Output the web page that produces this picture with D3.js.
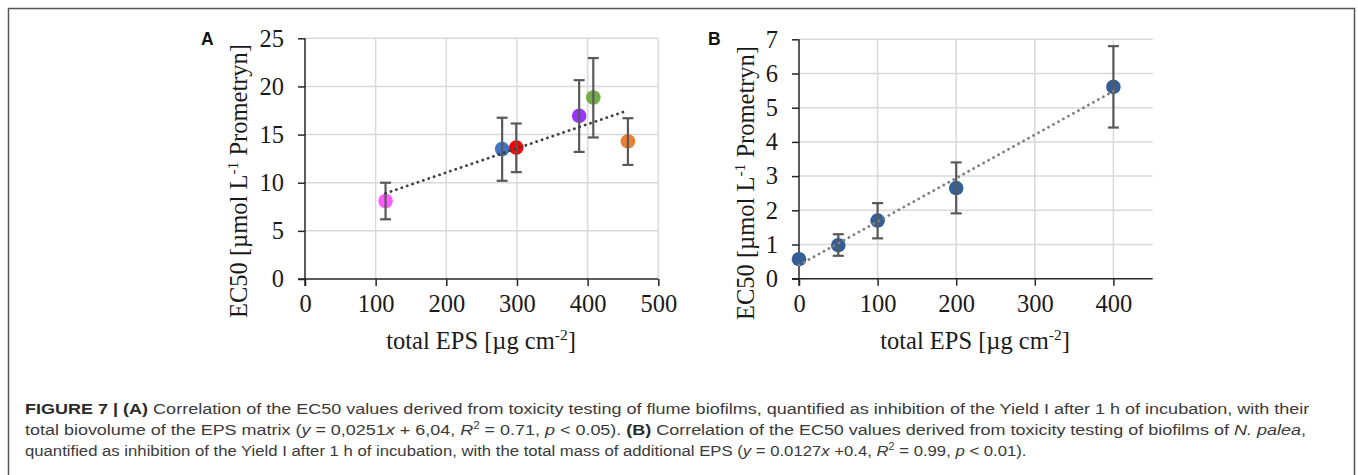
<!DOCTYPE html>
<html>
<head>
<meta charset="utf-8">
<script src="https://cdn.jsdelivr.net/npm/d3@7"></script>
<style>
  body { margin: 0; background: #fff; }
  svg { display: block; }
</style>
</head>
<body>
<svg id="chart" width="1358" height="475"></svg>
<script>
// ---------- Data ----------
// Panel A: flume biofilms
const aX      = [114, 279, 299, 388, 408, 457];
const aY      = [8.1, 13.5, 13.65, 16.95, 18.85, 14.3];
const aErrHi  = [10.0, 16.75, 16.15, 20.65, 22.95, 16.7];
const aErrLo  = [6.2, 10.2, 11.1, 13.2, 14.7, 11.85];
const aColors = ["#ff5cff", "#4472c4", "#ff0000", "#9933ff", "#70ad47", "#ed7d31"];
const aTrend  = { slope: 0.0251, intercept: 6.04, from: 114, to: 457 };
const aXTicks = [0, 100, 200, 300, 400, 500];
const aYTicks = [0, 5, 10, 15, 20, 25];

// Panel B: N. palea biofilms
const bX      = [0, 50, 100, 200, 400];
const bY      = [0.57, 0.98, 1.70, 2.65, 5.61];
const bErrHi  = [null, 1.30, 2.21, 3.40, 6.80];
const bErrLo  = [null, 0.67, 1.18, 1.91, 4.42];
const bColor  = "#335e96";
const bTrend  = { slope: 0.0127, intercept: 0.4, from: 0, to: 400 };
const bXTicks = [0, 100, 200, 300, 400];
const bYTicks = [0, 1, 2, 3, 4, 5, 6, 7];

const svg = d3.select("#chart");
svg.append("rect").attr("x", 0).attr("y", 0).attr("width", 1358).attr("height", 475).attr("fill", "#fff");
// figure frame
svg.append("rect").attr("x", 8.5).attr("y", 8.5).attr("width", 1346).attr("height", 480)
  .attr("fill", "none").attr("stroke", "#555").attr("stroke-width", 1.5);

const serif = "'Liberation Serif', 'Times New Roman', serif";
const sans = "'Liberation Sans', Arial, Helvetica, sans-serif";

function panel(cfg) {
  const g = svg.append("g");
  const x = d3.scaleLinear().domain(cfg.xDomain).range([cfg.left, cfg.right]);
  const y = d3.scaleLinear().domain(cfg.yDomain).range([cfg.bottom, cfg.top]);

  // gridlines
  const grid = g.append("g");
  grid.selectAll(".hg").data(cfg.yTicks.filter(d => d !== 0)).join("line")
    .attr("x1", cfg.left).attr("x2", cfg.right)
    .attr("y1", d => y(d)).attr("y2", d => y(d))
    .attr("stroke", "#d9d9d9").attr("stroke-width", 1.5);
  grid.selectAll(".vg").data(cfg.xTicks.filter(d => d !== 0)).join("line")
    .attr("x1", d => x(d)).attr("x2", d => x(d))
    .attr("y1", cfg.top).attr("y2", cfg.bottom)
    .attr("stroke", "#d9d9d9").attr("stroke-width", 1.5);

  // axes
  const xAxis = d3.axisBottom(x).tickValues(cfg.xTicks).tickSize(7).tickPadding(9).tickFormat(d3.format("d"));
  const yAxis = d3.axisLeft(y).tickValues(cfg.yTicks).tickSize(7).tickPadding(14).tickFormat(d3.format("d"));
  const gx = g.append("g").attr("transform", `translate(0,${cfg.bottom})`).call(xAxis);
  const gy = g.append("g").attr("transform", `translate(${cfg.left},0)`).call(yAxis);
  [gx, gy].forEach(ax => {
    ax.select(".domain").remove();
    ax.selectAll("line").attr("stroke", "#262626").attr("stroke-width", 1.5);
    ax.selectAll("text").attr("fill", "#1a1a1a").style("font-family", serif).style("font-size", "24.5px");
  });
  // axis lines
  g.append("line").attr("x1", cfg.left - 7).attr("x2", cfg.right)
    .attr("y1", cfg.bottom).attr("y2", cfg.bottom).attr("stroke", "#262626").attr("stroke-width", 1.5);
  g.append("line").attr("x1", cfg.left).attr("x2", cfg.left)
    .attr("y1", cfg.top).attr("y2", cfg.bottom + 7).attr("stroke", "#262626").attr("stroke-width", 1.5);

  // markers
  const pts = cfg.xs.map((v, i) => ({ x: v, y: cfg.ys[i], hi: cfg.hi[i], lo: cfg.lo[i], c: cfg.colors[i] }));
  g.append("g").selectAll("circle").data(pts).join("circle")
    .attr("cx", d => x(d.x)).attr("cy", d => y(d.y)).attr("r", 7.3)
    .attr("fill", d => d.c);

  // error bars
  const eb = g.append("g").attr("stroke", "#595959").attr("stroke-width", 2.2);
  pts.filter(d => d.hi != null).forEach(d => {
    eb.append("line").attr("x1", x(d.x)).attr("x2", x(d.x)).attr("y1", y(d.hi)).attr("y2", y(d.lo));
    eb.append("line").attr("x1", x(d.x) - 5.5).attr("x2", x(d.x) + 5.5).attr("y1", y(d.hi)).attr("y2", y(d.hi));
    eb.append("line").attr("x1", x(d.x) - 5.5).attr("x2", x(d.x) + 5.5).attr("y1", y(d.lo)).attr("y2", y(d.lo));
  });

  // trendline
  const t = cfg.trend;
  g.append("line")
    .attr("x1", x(t.from)).attr("y1", y(t.slope * t.from + t.intercept))
    .attr("x2", x(t.to)).attr("y2", y(t.slope * t.to + t.intercept))
    .attr("stroke", cfg.trendColor).attr("stroke-width", 2.8)
    .attr("stroke-dasharray", "0.1,5.6").attr("stroke-linecap", "round");

  // x title
  const xt = g.append("text").attr("x", cfg.xTitleX).attr("y", 349).attr("text-anchor", "middle")
    .style("font-family", serif).style("font-size", "24.5px").attr("fill", "#1a1a1a");
  xt.append("tspan").text("total EPS [µg cm");
  xt.append("tspan").attr("dy", -9).style("font-size", "15.5px").text("-2");
  xt.append("tspan").attr("dy", 9).text("]");

  // y title
  const yt = g.append("text").attr("transform", `translate(${cfg.yTitleX},${cfg.yTitleY}) rotate(-90)`)
    .attr("text-anchor", "middle")
    .style("font-family", serif).style("font-size", "24.5px").attr("fill", "#1a1a1a");
  yt.append("tspan").text("EC50 [µmol L");
  yt.append("tspan").attr("dy", -9).style("font-size", "15.5px").text("-1");
  yt.append("tspan").attr("dy", 9).text(" Prometryn]");

  // panel label
  g.append("text").attr("x", cfg.labelX).attr("y", 45).text(cfg.label)
    .style("font-family", sans).style("font-size", "17.5px").style("font-weight", "bold").attr("fill", "#111");
}

panel({
  xDomain: [0, 500], yDomain: [0, 25], left: 305, right: 658.3, top: 38.3, bottom: 279,
  xTicks: aXTicks, yTicks: aYTicks, xs: aX, ys: aY, hi: aErrHi, lo: aErrLo, colors: aColors,
  trend: aTrend, trendColor: "#404040", xTitleX: 481, yTitleX: 247, yTitleY: 181, label: "A", labelX: 201
});
panel({
  xDomain: [0, 450], yDomain: [0, 7], left: 799, right: 1152.7, top: 39.3, bottom: 278.7,
  xTicks: bXTicks, yTicks: bYTicks, xs: bX, ys: bY, hi: bErrHi, lo: bErrLo, colors: bX.map(() => bColor),
  trend: bTrend, trendColor: "#7f7f7f", xTitleX: 975, yTitleX: 754, yTitleY: 183, label: "B", labelX: 708
});

// ---------- Caption ----------
const capLines = [
  [["b", "FIGURE 7 | (A)"], ["n", " Correlation of the EC50 values derived from toxicity testing of flume biofilms, quantified as inhibition of the Yield I after 1 h of incubation, with their"]],
  [["n", "total biovolume of the EPS matrix ("], ["i", "y"], ["n", " = 0,0251"], ["i", "x"], ["n", " + 6,04, "], ["i", "R"], ["s", "2"], ["n", " = 0.71, "], ["i", "p"], ["n", " < 0.05). "], ["b", "(B)"], ["n", " Correlation of the EC50 values derived from toxicity testing of biofilms of "], ["i", "N. palea"], ["n", ","]],
  [["n", "quantified as inhibition of the Yield I after 1 h of incubation, with the total mass of additional EPS ("], ["i", "y"], ["n", " = 0.0127"], ["i", "x"], ["n", " +0.4, "], ["i", "R"], ["s", "2"], ["n", " = 0.99, "], ["i", "p"], ["n", " < 0.01)."]]
];
const capWidths = [1285, 1282, 1002];
const capBase = [414, 435, 456];
capLines.forEach((line, li) => {
  const gg = svg.append("g").attr("transform", `translate(25,${capBase[li]})`);
  const txt = gg.append("text").style("font-family", sans).style("font-size", "15.5px").attr("fill", "#3a3a3a");
  let prevSup = false;
  line.forEach(([kind, s]) => {
    const ts = txt.append("tspan").text(s);
    if (kind === "b") ts.style("font-weight", "bold").attr("fill", "#2a2a2a");
    if (kind === "i") ts.style("font-style", "italic");
    if (kind === "s") { ts.attr("dy", -6).style("font-size", "10px"); prevSup = true; }
    else if (prevSup) { ts.attr("dy", 6); prevSup = false; }
  });
  const w = txt.node().getComputedTextLength();
  txt.attr("transform", `scale(${capWidths[li] / w},1)`);
});
</script>
</body>
</html>
